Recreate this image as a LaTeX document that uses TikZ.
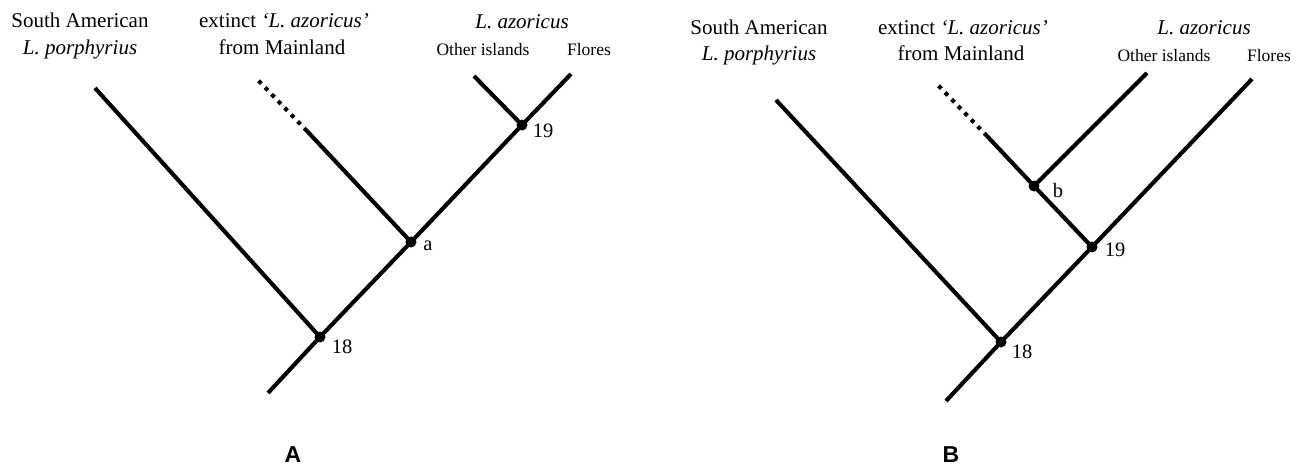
\documentclass[tikz,border=0pt]{standalone}
\usepackage{fontspec}
\setmainfont{Liberation Serif}
\newfontfamily\panelsans{Liberation Sans}
\begin{document}
\begin{tikzpicture}[x=1pt,y=-1pt,
  branch/.style={line width=4.1pt},
  extinctline/.style={line width=4.1pt, dash pattern=on 4pt off 5.4pt},
  bnode/.style={circle,fill=black,inner sep=0pt,minimum size=11pt},
  biglab/.style={font=\fontsize{21}{24}\selectfont, anchor=base, inner sep=0pt},
  smalllab/.style={font=\fontsize{17.5}{20}\selectfont, anchor=base, inner sep=0pt},
  numlab/.style={font=\fontsize{20.5}{22}\selectfont, inner sep=0pt},
  panellab/.style={font=\panelsans\bfseries\fontsize{23}{26}\selectfont, anchor=base, inner sep=0pt}]
\useasboundingbox (0,0) rectangle (1300,466);

% ---------- Tree A ----------
\coordinate (Aroot) at (268,393);
\node[bnode] (A18) at (320,337) {};
\node[bnode] (Aa) at (411,242) {};
\node[bnode] (A19) at (522,125) {};
\coordinate (Apor) at (95,88);
\coordinate (Aext) at (307,131);
\coordinate (Aextend) at (255,77);
\coordinate (Aoth) at (474,76);
\coordinate (Aflo) at (571,74);

\draw[branch] (Aroot) -- (A18.center) -- (Aa.center) -- (A19.center) -- (Aflo);
\draw[branch] (A18.center) -- (Apor);
\draw[branch] (Aa.center) -- (Aext);
\draw[extinctline] (Aext) -- (Aextend);
\draw[branch] (A19.center) -- (Aoth);

\node[numlab] (A18lab) at (342,347) {18};
\node[numlab] (Aalab) at (428,246) {a};
\node[numlab] (A19lab) at (543,131) {19};

\node[biglab] (Asa1) at (80,27.5) {South American};
\node[biglab] (Asa2) at (80,54) {\itshape L. porphyrius};
\node[biglab] (Aex1) at (284,27.5) {extinct {\itshape ‘L. azoricus’}};
\node[biglab] (Aex2) at (282,54) {from Mainland};
\node[biglab] (Aaz) at (522,28) {\itshape L. azoricus};
\node[smalllab] (Aothl) at (483,55) {Other islands};
\node[smalllab] (Aflol) at (589,55) {Flores};

\node[panellab] (Apanel) at (293,462) {A};

% ---------- Tree B ----------
\coordinate (Broot) at (946,401);
\node[bnode] (B18) at (1001,342) {};
\node[bnode] (B19) at (1092,247) {};
\node[bnode] (Bb) at (1034,186) {};
\coordinate (Bpor) at (776,100);
\coordinate (Bext) at (987,136);
\coordinate (Bextend) at (935,82);
\coordinate (Both) at (1147,73);
\coordinate (Bflo) at (1252,79);

\draw[branch] (Broot) -- (B18.center) -- (B19.center) -- (Bflo);
\draw[branch] (B18.center) -- (Bpor);
\draw[branch] (B19.center) -- (Bb.center) -- (Bext);
\draw[extinctline] (Bext) -- (Bextend);
\draw[branch] (Bb.center) -- (Both);

\node[numlab] (B18lab) at (1022,352) {18};
\node[numlab] (B19lab) at (1115,250) {19};
\node[numlab] (Bblab) at (1058,190) {b};

\node[biglab] (Bsa1) at (759,34) {South American};
\node[biglab] (Bsa2) at (759,60.5) {\itshape L. porphyrius};
\node[biglab] (Bex1) at (963,34) {extinct {\itshape ‘L. azoricus’}};
\node[biglab] (Bex2) at (961,60.5) {from Mainland};
\node[biglab] (Baz) at (1204,34.5) {\itshape L. azoricus};
\node[smalllab] (Bothl) at (1164,61) {Other islands};
\node[smalllab] (Bflol) at (1269,61) {Flores};

\node[panellab] (Bpanel) at (951,462) {B};
\end{tikzpicture}
\end{document}
